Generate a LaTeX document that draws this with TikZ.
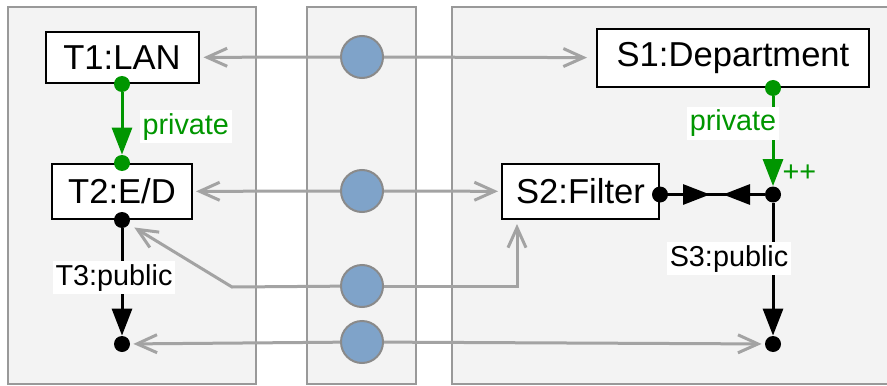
\documentclass[tikz,border=0pt]{standalone}
\usepackage{fontspec}
\setmainfont{Liberation Sans}
\usetikzlibrary{positioning,arrows.meta}

\definecolor{panelgray}{HTML}{F3F3F3}
\definecolor{rimgray}{HTML}{999999}
\definecolor{linkgray}{HTML}{A3A3A3}
\definecolor{hubblue}{HTML}{7FA3C9}
\definecolor{hubrim}{HTML}{8A8A8A}
\definecolor{privgreen}{HTML}{009600}

\begin{document}
\begin{tikzpicture}[
% Change style
	x=0.5pt, y=-0.5pt,
	on grid,
	panel/.style={draw=rimgray, fill=panelgray, line width=1pt},
	part/.style={draw, fill=white, line width=1pt, inner sep=0pt,
		minimum height=27.5pt, font=\fontsize{17.3}{20}\selectfont},
	pin/.style={circle, fill, inner sep=0pt, minimum size=8pt},
	hub/.style={circle, draw=hubrim, fill=hubblue, line width=1pt, minimum size=21pt},
	tag/.style={fill=white, inner sep=1.5pt, font=\fontsize{14.4}{16}\selectfont},
	link/.style={draw=linkgray, line width=1.5pt, -{Straight Barb[length=10pt,width=9pt]}},
	flow/.style={line width=1.5pt, -{Triangle[length=13.5pt,width=10pt]}}]

\useasboundingbox (0,0) rectangle (887,385);
\clip (0,0) rectangle (887,385);

% Panels
\path[panel] (8,7) rectangle (256,384);
\path[panel] (307,7) rectangle (416,384);
\path[panel] (452,7) rectangle (900,384);

% Part T1
\node[part, minimum width=76.5pt, minimum height=25.5pt] (t1) at (122,57.5) {T1:LAN};
\node[pin, privgreen] (t1out) at (t1.south) {};

% Part T2
\node[part, minimum width=70pt, below=67pt of t1] (t2) {T2:E/D};
\node[pin, privgreen] (t2in) at (t2.north) {};
\node[pin] (t2out) at (t2.south) {};

% End of T3
\node[pin, below=62pt of t2out] (t3end) {};

% Part S1
\node[part, minimum width=136pt, minimum height=29pt] (s1) at (733,58) {S1:Department};
\node[pin, privgreen] (s1out) at ([xshift=20pt]s1.south) {};

% Part S2
\node[part, minimum width=78.5pt] (s2) at (580.5,191.5) {S2:Filter};
\node[pin] (s2out) at ([yshift=-1.5pt]s2.east) {};

% Ends of S3
\node[pin] (s3in) at (s1out |- s2out) {};
\node[pin] (s3end) at (s3in |- t3end) {};

% Hubs
\node[hub] (h1) at (362,57) {};
\node[hub] (h2) at (362,191) {};
\node[hub] (h3) at (362,286) {};
\node[hub] (h4) at (362,342) {};

% Links
\coordinate (s2foot) at ([xshift=8pt,yshift=-2pt]s2.south west);
\coordinate (t2bend) at (232,287);
\draw[link, shorten >=2pt] (h1) -- (t1);
\draw[link, shorten >=4.5pt] (h1) -- (s1);
\draw[link, shorten >=1.5pt] (h2) -- (t2);
\draw[link, shorten >=1.5pt] (h2) -- (s2);
\draw[link] (h3) -| (s2foot);
\draw[link, shorten >=3pt] (h3) -- (t2bend) -- (t2out);
\draw[link, shorten >=1.5pt] (h4) -- (t3end);
\draw[link, shorten >=1.5pt] (h4) -- (s3end);

% Connections
\draw[flow, privgreen] (t1out) -- node[tag, text=privgreen, right=8pt, pos=0.55] {private} (t2in);
\draw[flow] (t2out) -- node[tag, xshift=-4pt, pos=0.46] {T3:public} (t3end);
\draw[flow, privgreen] (s1out)
	-- node[tag, text=privgreen, xshift=-20pt, pos=0.3] {private}
	node[text=privgreen, inner sep=0pt, right=4pt, pos=0.86, font=\fontsize{14.4}{16}\selectfont] {++}
	(s3in);
\draw[line width=1.5pt] (s2out) -- coordinate[pos=0.5] (meet) (s3in);
\draw[flow, shorten >=3.25pt] (s2out) -- (meet);
\draw[flow, shorten >=3.25pt] (s3in) -- (meet);
\draw[flow] (s3in) -- node[tag, xshift=-22pt, pos=0.42] {S3:public} (s3end);

\end{tikzpicture}
\end{document}
